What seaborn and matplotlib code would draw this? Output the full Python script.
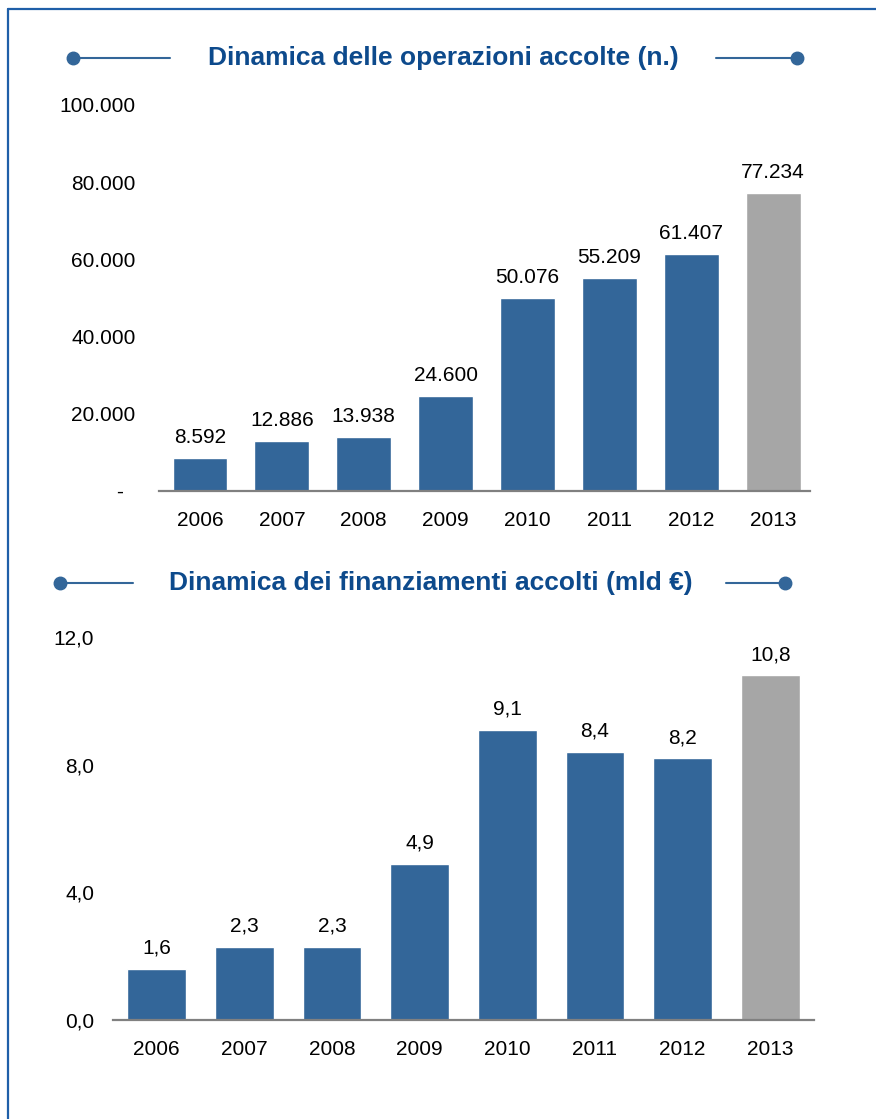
import numpy as np
import pandas as pd
import seaborn as sns
import matplotlib.pyplot as plt
from matplotlib.lines import Line2D

# --- data ---
years = ['2006', '2007', '2008', '2009', '2010', '2011', '2012', '2013']
operazioni = [8592, 12886, 13938, 24600, 50076, 55209, 61407, 77234]
finanziamenti = [1.6, 2.3, 2.3, 4.9, 9.1, 8.4, 8.2, 10.8]
op_labels = ['8.592', '12.886', '13.938', '24.600', '50.076', '55.209', '61.407', '77.234']
fin_labels = ['1,6', '2,3', '2,3', '4,9', '9,1', '8,4', '8,2', '10,8']
op_ticks = [0, 20000, 40000, 60000, 80000, 100000]
op_ticklabels = ['-  ', '20.000', '40.000', '60.000', '80.000', '100.000']
fin_ticks = [0, 4, 8, 12]
fin_ticklabels = ['0,0', '4,0', '8,0', '12,0']

BLUE = '#336699'
GREY = '#A6A6A6'
TITLE = '#0D4A8C'
FRAME = '#1F5FA8'
palette = {y: (GREY if y == '2013' else BLUE) for y in years}

sns.set_theme(style='white')
plt.rcParams['font.family'] = ['Liberation Sans', 'DejaVu Sans']

W, H = 876, 1119
FS = 15
fig = plt.figure(figsize=(W / 100, H / 100), dpi=100)


def px(x0, y0, x1, y1):
    # pixel box -> figure fraction rect
    return [x0 / W, 1 - y1 / H, (x1 - x0) / W, (y1 - y0) / H]


def draw(ax, values, labels, ticks, ticklabels, xlim, ylim, ypad):
    df = pd.DataFrame({'anno': years, 'val': values})
    sns.barplot(data=df, x='anno', y='val', hue='anno', palette=palette,
                legend=False, width=0.67, saturation=1, ax=ax)
    for i, (v, lab) in enumerate(zip(values, labels)):
        ax.annotate(lab, (i, v), xytext=(0, 8), textcoords='offset points',
                    ha='center', va='bottom', fontsize=FS, color='black')
    ax.set_xlim(*xlim)
    ax.set_ylim(*ylim)
    ax.set_yticks(ticks)
    ax.set_yticklabels(ticklabels)
    ax.set_xlabel('')
    ax.set_ylabel('')
    for s in ['top', 'right', 'left']:
        ax.spines[s].set_visible(False)
    ax.spines['bottom'].set_color('#808080')
    ax.spines['bottom'].set_linewidth(1.6)
    ax.tick_params(axis='y', length=0, pad=ypad, labelsize=FS, labelcolor='black')
    ax.tick_params(axis='x', length=0, pad=14.5, labelsize=FS, labelcolor='black')
    ax.patch.set_alpha(0)


ax1 = fig.add_axes(px(159, 105, 810, 491))
draw(ax1, operazioni, op_labels, op_ticks, op_ticklabels, (-0.5, 7.45), (0, 100000), 17)

ax2 = fig.add_axes(px(113, 637, 814, 1020))
draw(ax2, finanziamenti, fin_labels, fin_ticks, fin_ticklabels, (-0.5, 7.5), (0, 12), 13.5)

# titles
fig.text(443 / W, 1 - 58 / H, 'Dinamica delle operazioni accolte (n.)', ha='center', va='center',
         fontsize=19, fontweight='bold', color=TITLE)
fig.text(431 / W, 1 - 583 / H, 'Dinamica dei finanziamenti accolti (mld €)', ha='center', va='center',
         fontsize=19, fontweight='bold', color=TITLE)


def deco(xa, xb, y, dot_left):
    yy = 1 - y / H
    fig.add_artist(Line2D([xa / W, xb / W], [yy, yy], color=BLUE, lw=1.5))
    xd = xa if dot_left else xb
    fig.add_artist(Line2D([xd / W], [yy], marker='o', markersize=9, color=BLUE, lw=0))


deco(73, 170, 58, True)
deco(716, 797, 58, False)
deco(60, 133, 583, True)
deco(726, 785, 583, False)

# frame
fig.add_artist(Line2D([8 / W, 8 / W], [0, 1 - 9 / H], color=FRAME, lw=1.6))
fig.add_artist(Line2D([8 / W, 1], [1 - 9 / H, 1 - 9 / H], color=FRAME, lw=1.6))

fig.savefig('out.png', dpi=100)
